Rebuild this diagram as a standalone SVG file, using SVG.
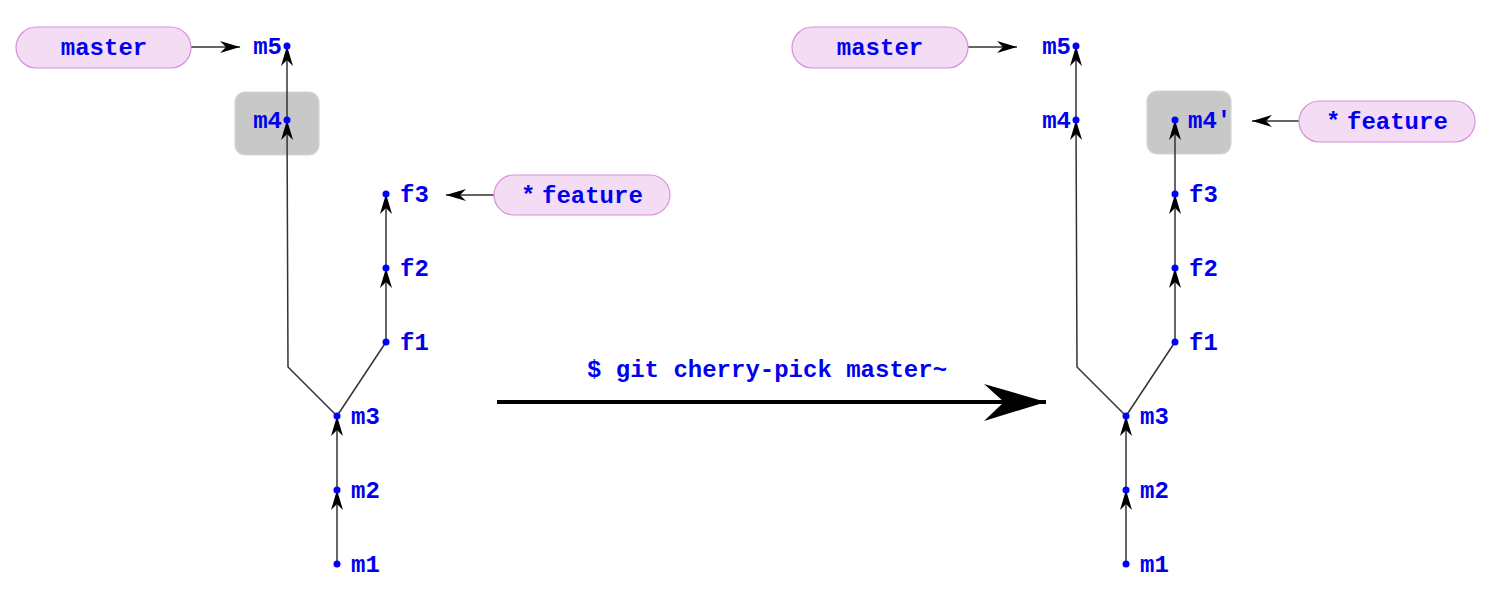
<svg xmlns="http://www.w3.org/2000/svg" width="1490" height="590" viewBox="0 0 1490 590">
<style>
.lbl{font-family:"Liberation Mono","Courier New",monospace;font-weight:bold;font-size:24px;fill:#0000ee}
.ref{fill:#f5dcf5;stroke:#d890d8;stroke-width:1.2}
.hl{fill:#c8c8c8;stroke:#d6d6d6;stroke-width:1.2}
.dot{fill:#0000ff}
.edge{fill:none;stroke:#333;stroke-width:1.5}
</style>
<defs>
<marker id="ah" markerUnits="userSpaceOnUse" markerWidth="24" markerHeight="16" viewBox="-22 -8 24 16" refX="0" refY="0" orient="auto">
<path d="M0,0 L-20,-6 L-14,0 L-20,6 Z" fill="#000"/>
</marker>
<marker id="big" markerUnits="userSpaceOnUse" markerWidth="70" markerHeight="44" viewBox="-64 -22 70 44" refX="0" refY="0" orient="auto">
<path d="M0,0 L-62,-18 L-42,0 L-62,19 Z" fill="#000"/>
</marker>
</defs>
<rect width="1490" height="590" fill="#fff"/>
<g id="highlights">
<rect id="hl-left" class="hl" x="235" y="92" width="84" height="63" rx="10"/>
<rect id="hl-right" class="hl" x="1147" y="91" width="84" height="63" rx="10"/>
</g>
<g id="connectors">
<line class="edge" x1="337" y1="564" x2="337" y2="490" marker-end="url(#ah)"/>
<line class="edge" x1="337" y1="490" x2="337" y2="416" marker-end="url(#ah)"/>
<line class="edge" x1="337" y1="416" x2="386" y2="342"/>
<line class="edge" x1="386" y1="342" x2="386" y2="268" marker-end="url(#ah)"/>
<line class="edge" x1="386" y1="268" x2="386" y2="194" marker-end="url(#ah)"/>
<polyline class="edge" points="337,416 288,367 287,120" marker-end="url(#ah)"/>
<line class="edge" x1="287" y1="120" x2="287" y2="46" marker-end="url(#ah)"/>
<line class="edge" x1="191" y1="47" x2="240" y2="47" marker-end="url(#ah)"/>
<line class="edge" x1="494" y1="195" x2="446" y2="195" marker-end="url(#ah)"/>
<line class="edge" x1="1126" y1="564" x2="1126" y2="490" marker-end="url(#ah)"/>
<line class="edge" x1="1126" y1="490" x2="1126" y2="416" marker-end="url(#ah)"/>
<line class="edge" x1="1126" y1="416" x2="1175" y2="342"/>
<line class="edge" x1="1175" y1="342" x2="1175" y2="268" marker-end="url(#ah)"/>
<line class="edge" x1="1175" y1="268" x2="1175" y2="194" marker-end="url(#ah)"/>
<line class="edge" x1="1175" y1="194" x2="1175" y2="120" marker-end="url(#ah)"/>
<polyline class="edge" points="1126,416 1077,367 1076,120" marker-end="url(#ah)"/>
<line class="edge" x1="1076" y1="120" x2="1076" y2="46" marker-end="url(#ah)"/>
<line class="edge" x1="968" y1="47" x2="1017" y2="47" marker-end="url(#ah)"/>
<line class="edge" x1="1299" y1="121" x2="1252" y2="121" marker-end="url(#ah)"/>
<line x1="497" y1="402" x2="1046" y2="402" stroke="#000" stroke-width="4" marker-end="url(#big)"/>
</g>
<g id="n-master-left"><rect class="ref" x="16" y="27" width="175" height="41" rx="20.5"/><text class="lbl" x="104" y="55" text-anchor="middle">master</text></g>
<g id="n-feature-left"><rect class="ref" x="494" y="175" width="176" height="40" rx="20"/><text class="lbl" x="521 528 542" y="203">* feature</text></g>
<g id="n-m1"><circle class="dot" cx="337" cy="564" r="3.5"/><text class="lbl" x="351" y="572">m1</text></g>
<g id="n-m2"><circle class="dot" cx="337" cy="490" r="3.5"/><text class="lbl" x="351" y="498">m2</text></g>
<g id="n-m3"><circle class="dot" cx="337" cy="416" r="3.5"/><text class="lbl" x="351" y="424">m3</text></g>
<g id="n-f1"><circle class="dot" cx="386" cy="342" r="3.5"/><text class="lbl" x="400" y="350">f1</text></g>
<g id="n-f2"><circle class="dot" cx="386" cy="268" r="3.5"/><text class="lbl" x="400" y="276">f2</text></g>
<g id="n-f3"><circle class="dot" cx="386" cy="194" r="3.5"/><text class="lbl" x="400" y="202">f3</text></g>
<g id="n-m4"><circle class="dot" cx="287" cy="120" r="3.5"/><text class="lbl" x="282" y="128" text-anchor="end">m4</text></g>
<g id="n-m5"><circle class="dot" cx="287" cy="46" r="3.5"/><text class="lbl" x="282" y="54" text-anchor="end">m5</text></g>
<g id="cmd"><text class="lbl" x="767" y="377" text-anchor="middle">$ git cherry-pick master~</text></g>
<g id="n-master-right"><rect class="ref" x="792" y="27" width="176" height="41" rx="20.5"/><text class="lbl" x="880" y="55" text-anchor="middle">master</text></g>
<g id="n-feature-right"><rect class="ref" x="1299" y="101" width="176" height="41" rx="20.5"/><text class="lbl" x="1326 1333 1347" y="129">* feature</text></g>
<g id="n-m1r"><circle class="dot" cx="1126" cy="564" r="3.5"/><text class="lbl" x="1140" y="572">m1</text></g>
<g id="n-m2r"><circle class="dot" cx="1126" cy="490" r="3.5"/><text class="lbl" x="1140" y="498">m2</text></g>
<g id="n-m3r"><circle class="dot" cx="1126" cy="416" r="3.5"/><text class="lbl" x="1140" y="424">m3</text></g>
<g id="n-f1r"><circle class="dot" cx="1175" cy="342" r="3.5"/><text class="lbl" x="1189" y="350">f1</text></g>
<g id="n-f2r"><circle class="dot" cx="1175" cy="268" r="3.5"/><text class="lbl" x="1189" y="276">f2</text></g>
<g id="n-f3r"><circle class="dot" cx="1175" cy="194" r="3.5"/><text class="lbl" x="1189" y="202">f3</text></g>
<g id="n-m4pr"><circle class="dot" cx="1175" cy="120" r="3.5"/><text class="lbl" x="1188" y="128">m4'</text></g>
<g id="n-m4r"><circle class="dot" cx="1076" cy="120" r="3.5"/><text class="lbl" x="1071" y="128" text-anchor="end">m4</text></g>
<g id="n-m5r"><circle class="dot" cx="1076" cy="46" r="3.5"/><text class="lbl" x="1071" y="54" text-anchor="end">m5</text></g>
</svg>
